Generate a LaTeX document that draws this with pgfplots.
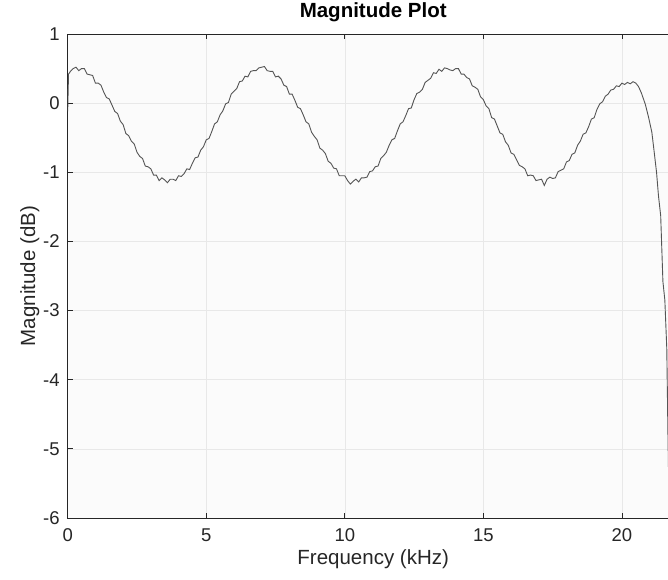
\documentclass[border=0pt]{standalone}
\usepackage{pgfplots}
\pgfplotsset{compat=1.18}
\usepackage{fontspec}
\setmainfont{Liberation Sans}
\definecolor{axc}{RGB}{38,38,38}
\definecolor{linec}{RGB}{85,85,85}
\begin{document}
\begin{tikzpicture}[x=1pt,y=1pt]
\path[use as bounding box] (-67.7,-61) rectangle (600.3,518);
\begin{axis}[
  at={(0,0)}, anchor=south west,
  scale only axis, width=611pt, height=484pt,
  xmin=0, xmax=22.05, ymin=-6, ymax=1,
  xtick={0,5,10,15,20}, ytick={-6,-5,-4,-3,-2,-1,0,1},
  grid=major,
  major grid style={color=gray!18, line width=0.6pt},
  axis background/.style={fill=gray!3},
  tick align=inside, major tick length=5pt,
  axis line style={color=axc, line width=0.9pt},
  tick style={color=axc, line width=0.8pt},
  /pgf/number format/assume math mode=true,
  ticklabel style={font=\fontsize{18.5}{20}\selectfont, text=axc},
  xticklabel style={yshift=-7.5pt},
  yticklabel style={xshift=-4.5pt},
  xlabel={Frequency (kHz)},
  ylabel={Magnitude (dB)},
  xlabel style={at={(axis description cs:0.5,-0.0965)}, anchor=base, font=\fontsize{20.5}{22}\selectfont, text=axc},
  ylabel style={at={(axis description cs:-0.0535,0.5)}, anchor=base, font=\fontsize{20.5}{22}\selectfont, text=axc},
  title={Magnitude Plot},
  title style={at={(axis description cs:0.5,1.0227)}, anchor=base, font=\fontsize{20.5}{22}\selectfont\bfseries, text=black},
]
\addplot[color=linec, line width=0.9pt] coordinates {
(0,-0.12) (0.03,0.42) (0.1,0.46) (0.2,0.50)
(0.3,0.52) (0.4,0.47) (0.5,0.50) (0.6,0.50) (0.7,0.42) (0.8,0.41) (0.9,0.40) (1.0,0.29) (1.1,0.29) (1.2,0.26)
(1.3,0.16) (1.4,0.08) (1.5,0.06) (1.6,-0.03) (1.7,-0.12) (1.8,-0.15) (1.9,-0.26) (2.0,-0.31) (2.1,-0.44) (2.2,-0.47)
(2.3,-0.55) (2.4,-0.59) (2.5,-0.71) (2.6,-0.77) (2.7,-0.80) (2.8,-0.91) (2.9,-0.92) (3.0,-0.95) (3.1,-1.04) (3.2,-1.04)
(3.3,-1.12) (3.4,-1.08) (3.5,-1.11) (3.6,-1.15) (3.7,-1.10) (3.8,-1.10) (3.9,-1.12) (4.0,-1.05) (4.1,-1.06) (4.2,-1.02)
(4.3,-0.95) (4.4,-0.96) (4.5,-0.87) (4.6,-0.79) (4.7,-0.78) (4.8,-0.68) (4.9,-0.63) (5.0,-0.53) (5.1,-0.51) (5.2,-0.41)
(5.3,-0.30) (5.4,-0.27) (5.5,-0.17) (5.6,-0.11) (5.7,-0.01) (5.8,0.01) (5.9,0.13) (6.0,0.17) (6.1,0.21) (6.2,0.31)
(6.3,0.32) (6.4,0.39) (6.5,0.38) (6.6,0.46) (6.7,0.47) (6.8,0.47) (6.9,0.51) (7.0,0.52)
(7.1,0.53) (7.2,0.47) (7.3,0.46) (7.4,0.46) (7.5,0.38) (7.6,0.39) (7.7,0.35) (7.8,0.26) (7.9,0.24) (8.0,0.13)
(8.1,0.13) (8.2,0.04) (8.3,-0.06) (8.4,-0.08) (8.5,-0.17) (8.6,-0.27) (8.7,-0.30) (8.8,-0.42) (8.9,-0.48) (9.0,-0.53)
(9.1,-0.65) (9.2,-0.68) (9.3,-0.73) (9.4,-0.84) (9.5,-0.87) (9.6,-0.94) (9.7,-0.95) (9.8,-1.05) (9.9,-1.05) (10.0,-1.05)
(10.1,-1.12) (10.2,-1.17) (10.3,-1.13) (10.4,-1.10) (10.5,-1.14) (10.6,-1.08) (10.7,-1.08) (10.8,-1.07) (10.9,-0.99) (11.0,-0.98)
(11.1,-0.92) (11.2,-0.91) (11.3,-0.80) (11.4,-0.76) (11.5,-0.71) (11.6,-0.61) (11.7,-0.53) (11.8,-0.51) (11.9,-0.40) (12.0,-0.30)
(12.1,-0.27) (12.2,-0.18) (12.3,-0.08) (12.4,-0.07) (12.5,0.05) (12.6,0.14) (12.7,0.16) (12.8,0.20) (12.9,0.30) (13.0,0.33)
(13.1,0.36) (13.2,0.44) (13.3,0.43) (13.4,0.49) (13.5,0.46) (13.6,0.51) (13.7,0.50) (13.8,0.48)
(13.9,0.47) (14.0,0.50) (14.1,0.50) (14.2,0.42) (14.3,0.42) (14.4,0.37) (14.5,0.35) (14.6,0.25) (14.7,0.23) (14.8,0.20)
(14.9,0.09) (15.0,0.05) (15.1,-0.04) (15.2,-0.08) (15.3,-0.21) (15.4,-0.23) (15.5,-0.33) (15.6,-0.43) (15.7,-0.45) (15.8,-0.56)
(15.9,-0.61) (16.0,-0.72) (16.1,-0.74) (16.2,-0.82) (16.3,-0.90) (16.4,-0.92) (16.5,-0.95) (16.6,-1.05) (16.7,-1.04) (16.8,-1.05)
(16.9,-1.12) (17.0,-1.11) (17.1,-1.10) (17.2,-1.19) (17.3,-1.10) (17.4,-1.07) (17.5,-1.09) (17.6,-1.08) (17.7,-0.99) (17.8,-0.97)
(17.9,-0.95) (18.0,-0.85) (18.1,-0.83) (18.2,-0.74) (18.3,-0.72) (18.4,-0.61) (18.5,-0.55) (18.6,-0.45) (18.7,-0.43) (18.8,-0.34)
(18.9,-0.23) (19.0,-0.21) (19.1,-0.09) (19.2,-0.01) (19.3,0.02) (19.4,0.10) (19.5,0.13) (19.6,0.19) (19.7,0.20) (19.8,0.25)
(19.9,0.24) (20.0,0.29) (20.1,0.27) (20.2,0.30) (20.3,0.28) (20.4,0.31) (20.5,0.29)
(20.6,0.24) (20.7,0.15) (20.84,-0.01) (20.96,-0.20) (21.08,-0.42) (21.14,-0.62) (21.25,-1.00) (21.32,-1.34)
(21.40,-1.63) (21.48,-2.58) (21.55,-2.85) (21.62,-3.55) (21.66,-4.75) (21.72,-6.30)
};
\end{axis}
\end{tikzpicture}
\end{document}
